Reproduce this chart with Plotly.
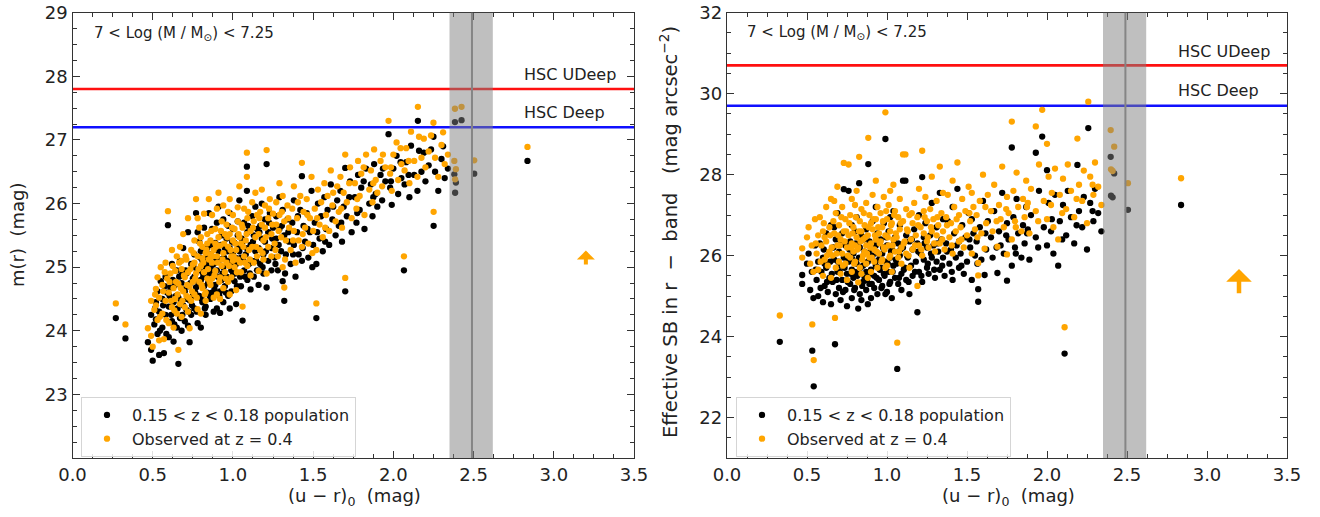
import plotly.graph_objects as go

# ---------------- Left panel: m(r) vs (u-r)_0 ----------------
xL = [
    0.27, 0.33,
    0.47, 0.49, 0.50, 0.51, 0.52, 0.53, 0.53, 0.54, 0.54, 0.55, 0.49, 0.52,
    0.56, 0.56, 0.57, 0.58, 0.58, 0.595, 0.60, 0.60, 0.61, 0.62, 0.62, 0.63, 0.63, 0.64, 0.64, 0.65, 0.65, 0.59,
    0.66, 0.66, 0.67, 0.67, 0.68, 0.68, 0.69, 0.69, 0.70, 0.70, 0.71, 0.71, 0.72, 0.72, 0.73, 0.73, 0.74, 0.74, 0.75, 0.75, 0.68, 0.72,
    0.76, 0.76, 0.77, 0.77, 0.78, 0.78, 0.79, 0.79, 0.80, 0.80, 0.81, 0.81, 0.82, 0.82, 0.83, 0.83, 0.84, 0.84, 0.85, 0.85, 0.78, 0.80, 0.83, 0.76, 0.81, 0.84,
    0.86, 0.86, 0.87, 0.87, 0.88, 0.88, 0.89, 0.89, 0.90, 0.90, 0.91, 0.91, 0.92, 0.92, 0.93, 0.93, 0.94, 0.94, 0.95, 0.95, 0.87, 0.90, 0.92, 0.89, 0.94, 0.86,
    0.96, 0.96, 0.97, 0.97, 0.98, 0.98, 0.99, 0.99, 1.00, 1.00, 1.01, 1.01, 1.02, 1.02, 1.03, 1.03, 1.04, 1.04, 1.05, 1.05, 0.98, 1.00, 1.03, 0.97,
    1.06, 1.06, 1.07, 1.07, 1.08, 1.087, 1.087, 1.09, 1.09, 1.10, 1.11, 1.11, 1.12, 1.12, 1.13, 1.13, 1.14, 1.14, 1.15, 1.15,
    1.16, 1.16, 1.17, 1.17, 1.18, 1.18, 1.19, 1.19, 1.20, 1.20, 1.21, 1.21, 1.22, 1.22, 1.23, 1.24, 1.24, 1.25,
    1.26, 1.27, 1.27, 1.28, 1.29, 1.29, 1.30, 1.31, 1.31, 1.32, 1.32, 1.33, 1.34, 1.35,
    1.36, 1.37, 1.38, 1.38, 1.39, 1.40, 1.41, 1.42, 1.43, 1.43, 1.44, 1.45,
    1.46, 1.47, 1.48, 1.49, 1.50, 1.51, 1.52, 1.52, 1.53, 1.54, 1.55,
    1.56, 1.57, 1.58, 1.59, 1.60, 1.61, 1.62, 1.64, 1.65,
    1.66, 1.67, 1.68, 1.69, 1.70, 1.70, 1.71, 1.73, 1.74,
    1.76, 1.77, 1.78, 1.79, 1.80, 1.82, 1.83, 1.85,
    1.86, 1.87, 1.88, 1.89, 1.90, 1.92, 1.93, 1.95,
    1.97, 1.98, 1.99, 2.00, 2.02, 2.03, 2.05,
    2.066, 2.07, 2.08, 2.10, 2.11, 2.13, 2.15,
    2.153, 2.16, 2.19, 2.20, 2.22, 2.25,
    2.251, 2.26, 2.28, 2.30, 2.32, 2.34,
    2.384, 2.425, 2.38, 2.39, 2.385, 2.504, 2.836,
    0.515, 0.545, 0.565, 0.575, 0.585, 0.605, 0.615, 0.625, 0.635, 0.645,
    0.655, 0.665, 0.675, 0.685, 0.695, 0.705, 0.715, 0.725, 0.735, 0.745,
    0.755, 0.765, 0.775, 0.785, 0.795, 0.805, 0.815, 0.825, 0.835, 0.845,
    0.855, 0.865, 0.875, 0.885, 0.895, 0.905, 0.915, 0.925, 0.935, 0.945,
    0.955, 0.965, 0.975, 0.985, 0.995, 1.005, 1.015, 1.025, 1.035, 1.045,
    1.055, 1.065, 1.075, 1.085, 1.095, 1.105, 1.125, 1.145, 1.165, 1.185,
    1.205, 1.225, 1.245, 1.265, 1.285, 1.305, 1.325, 1.345, 1.375, 1.405,
    1.435, 1.465, 1.495, 1.525, 1.575, 1.625, 1.675, 1.725, 1.775, 1.815,
    1.875, 1.935, 1.985, 2.045, 2.095, 2.175, 2.235, 2.31,
]
mr_low = [
    24.20, 23.88,
    23.82, 24.25, 23.53, 24.10, 24.45, 23.95, 24.62, 24.30, 23.62, 24.78, 23.70, 24.18,
    24.05, 24.50, 23.65, 24.25, 24.85, 25.66, 24.38, 23.90, 24.68, 24.15, 25.05, 24.45, 23.83, 24.72, 24.28, 24.05, 24.95, 24.60,
    23.48, 24.52, 24.20, 25.10, 24.75, 24.00, 24.40, 25.30, 24.62, 24.15, 24.90, 24.33, 25.55, 24.70, 23.82, 24.48, 25.05, 24.25, 24.82, 24.55, 24.88, 24.08,
    24.35, 25.20, 24.68, 25.85, 24.95, 24.12, 24.55, 25.40, 24.80, 24.05, 25.10, 24.45, 25.62, 24.70, 24.25, 25.00, 25.30, 24.60, 24.90, 25.85, 25.55, 25.25, 24.38, 24.85, 24.92, 25.15,
    24.50, 25.20, 24.85, 25.60, 24.30, 25.05, 24.72, 25.38, 24.95, 24.35, 25.25, 25.95, 24.62, 25.12, 24.80, 25.50, 25.00, 24.45, 25.30, 24.70, 24.60, 25.70, 24.28, 25.15, 25.75, 24.98,
    24.85, 25.45, 25.10, 24.55, 25.30, 25.85, 24.95, 24.62, 25.20, 25.60, 24.78, 25.38, 25.05, 24.42, 25.50, 24.90, 25.25, 26.05, 24.70, 25.15, 24.35, 24.88, 25.72, 25.65,
    24.16, 25.40, 24.95, 25.70, 25.20, 26.58, 26.20, 24.80, 25.55, 25.05, 25.35, 24.65, 25.80, 25.10, 24.85, 25.50, 25.25, 25.95, 24.95, 25.60,
    25.30, 24.72, 25.65, 25.05, 25.45, 26.00, 24.90, 25.20, 25.75, 25.40, 26.62, 24.68, 25.55, 25.10, 25.85, 25.30, 24.95, 25.62,
    25.15, 25.80, 25.45, 24.95, 26.10, 25.60, 25.25, 24.78, 25.90, 24.47, 25.50, 25.20, 25.75, 25.40,
    25.05, 25.70, 25.35, 26.05, 24.85, 25.55, 25.20, 25.90, 26.43, 25.10, 25.65, 25.40,
    25.85, 25.15, 25.55, 26.20, 25.35, 25.70, 24.20, 25.05, 26.00, 25.45, 25.80,
    25.25, 26.10, 25.60, 25.90, 25.35, 26.30, 25.75, 25.50, 26.05,
    25.65, 26.20, 25.40, 25.95, 24.62, 26.56, 25.80, 26.35, 25.55,
    26.10, 25.70, 26.45, 25.90, 26.25, 25.60, 26.55, 26.00,
    26.30, 25.80, 26.62, 26.15, 25.95, 26.45, 26.05, 26.35,
    27.09, 26.25, 25.98, 26.55, 26.75, 26.15, 26.40,
    24.95, 26.30, 26.65, 26.10, 26.91, 26.45, 26.20,
    27.30, 26.83, 26.80, 26.35, 26.60, 27.05,
    25.65, 26.50, 26.20, 26.70, 26.40, 26.55,
    27.28, 27.31, 26.46, 26.33, 26.17, 26.47, 26.67,
    24.35, 24.00, 24.40, 24.70, 23.95, 24.55, 24.25, 24.80, 24.10, 24.55,
    24.35, 24.85, 24.45, 24.25, 24.65, 24.95, 24.50, 24.30, 24.75, 24.40,
    25.00, 24.60, 24.30, 24.75, 25.15, 24.50, 24.85, 24.35, 25.05, 24.75,
    24.55, 25.35, 24.95, 24.65, 25.10, 24.85, 24.55, 25.35, 24.90, 25.15,
    24.60, 25.25, 24.80, 25.05, 25.40, 24.95, 25.15, 24.70, 25.30, 24.85,
    25.45, 25.10, 24.85, 25.30, 25.65, 24.90, 25.40, 25.10, 25.55, 25.00,
    25.25, 25.70, 25.45, 25.05, 25.35, 25.65, 24.90, 25.55, 25.20, 25.80,
    25.30, 25.60, 25.00, 25.55, 25.40, 25.95, 25.70, 26.10, 25.85, 26.35,
    26.10, 26.55, 26.35, 26.65, 26.45, 26.50, 26.85, 26.90,
]
mr_z04 = [
    24.43, 24.10,
    24.04, 24.47, 23.75, 24.33, 24.66, 24.17, 24.84, 24.52, 23.85, 25.00, 23.92, 24.40,
    24.27, 24.72, 23.87, 24.47, 25.07, 25.88, 24.60, 24.12, 24.90, 24.37, 25.27, 24.67, 24.05, 24.94, 24.50, 24.27, 25.17, 24.82,
    23.70, 24.74, 24.42, 25.32, 24.97, 24.22, 24.62, 25.52, 24.84, 24.37, 25.12, 24.55, 25.77, 24.92, 24.04, 24.70, 25.27, 24.47, 25.04, 24.77, 25.10, 24.30,
    24.57, 25.42, 24.90, 26.07, 25.17, 24.34, 24.77, 25.62, 25.02, 24.27, 25.32, 24.67, 25.84, 24.92, 24.47, 25.22, 25.52, 24.82, 25.12, 26.07, 25.77, 25.47, 24.60, 25.07, 25.14, 25.37,
    24.72, 25.42, 25.07, 25.82, 24.52, 25.27, 24.94, 25.60, 25.17, 24.57, 25.47, 26.17, 24.84, 25.34, 25.02, 25.72, 25.22, 24.67, 25.52, 24.92, 24.82, 25.92, 24.50, 25.37, 25.97, 25.20,
    25.07, 25.67, 25.32, 24.77, 25.52, 26.07, 25.17, 24.84, 25.42, 25.82, 25.00, 25.60, 25.27, 24.64, 25.72, 25.12, 25.47, 26.27, 24.92, 25.37, 24.57, 25.10, 25.94, 25.87,
    24.38, 25.62, 25.17, 25.92, 25.42, 26.80, 26.42, 25.02, 25.77, 25.27, 25.57, 24.87, 26.02, 25.32, 25.07, 25.72, 25.47, 26.17, 25.17, 25.82,
    25.52, 24.94, 25.87, 25.27, 25.67, 26.22, 25.12, 25.42, 25.97, 25.62, 26.84, 24.90, 25.77, 25.32, 26.07, 25.52, 25.17, 25.84,
    25.37, 26.02, 25.67, 25.17, 26.32, 25.82, 25.47, 25.00, 26.12, 24.68, 25.72, 25.42, 25.97, 25.62,
    25.27, 25.92, 25.57, 26.27, 25.07, 25.77, 25.42, 26.12, 26.64, 25.32, 25.87, 25.62,
    26.07, 25.37, 25.77, 26.42, 25.57, 25.92, 24.43, 25.27, 26.22, 25.67, 26.02,
    25.47, 26.32, 25.82, 26.12, 25.57, 26.52, 25.97, 25.72, 26.27,
    25.87, 26.42, 25.62, 26.17, 24.83, 26.77, 26.02, 26.57, 25.77,
    26.32, 25.92, 26.67, 26.12, 26.47, 25.82, 26.77, 26.22,
    26.52, 26.02, 26.85, 26.37, 26.17, 26.67, 26.27, 26.57,
    27.30, 26.47, 26.20, 26.77, 26.96, 26.37, 26.62,
    25.17, 26.52, 26.87, 26.32, 27.13, 26.67, 26.42,
    27.52, 27.05, 27.02, 26.57, 26.82, 27.27,
    25.87, 26.72, 26.42, 26.92, 26.62, 26.77,
    27.49, 27.52, 26.67, 26.54, 26.38, 26.68, 26.89,
    24.57, 24.22, 24.62, 24.92, 24.17, 24.77, 24.47, 25.02, 24.32, 24.77,
    24.57, 25.07, 24.67, 24.47, 24.87, 25.17, 24.72, 24.52, 24.97, 24.62,
    25.22, 24.82, 24.52, 24.97, 25.37, 24.72, 25.07, 24.57, 25.27, 24.97,
    24.77, 25.57, 25.17, 24.87, 25.32, 25.07, 24.77, 25.57, 25.12, 25.37,
    24.82, 25.47, 25.02, 25.27, 25.62, 25.17, 25.37, 24.92, 25.52, 25.07,
    25.67, 25.32, 25.07, 25.52, 25.87, 25.12, 25.62, 25.32, 25.77, 25.22,
    25.47, 25.92, 25.67, 25.27, 25.57, 25.87, 25.12, 25.77, 25.42, 26.02,
    25.52, 25.82, 25.22, 25.77, 25.62, 26.17, 25.92, 26.32, 26.07, 26.57,
    26.32, 26.77, 26.57, 26.87, 26.67, 26.72, 27.07, 27.12,
]

# ---------------- Right panel: effective SB vs (u-r)_0 ----------------
xR = [
    0.33,
    0.47, 0.47, 0.50, 0.51, 0.533, 0.542, 0.52, 0.53, 0.54, 0.55,
    0.56, 0.57, 0.57, 0.58, 0.59, 0.60, 0.60, 0.61, 0.62, 0.62, 0.63, 0.64, 0.64, 0.65, 0.65, 0.61,
    0.66, 0.675, 0.67, 0.68, 0.68, 0.69, 0.69, 0.70, 0.70, 0.71, 0.71, 0.72, 0.72, 0.73, 0.73, 0.74, 0.74, 0.75, 0.75, 0.67,
    0.76, 0.76, 0.77, 0.77, 0.78, 0.78, 0.79, 0.79, 0.80, 0.80, 0.81, 0.81, 0.82, 0.82, 0.826, 0.83, 0.83, 0.84, 0.84, 0.85, 0.85, 0.78, 0.80, 0.84,
    0.86, 0.86, 0.87, 0.87, 0.883, 0.88, 0.89, 0.89, 0.90, 0.90, 0.91, 0.91, 0.92, 0.92, 0.93, 0.93, 0.94, 0.94, 0.95, 0.95, 0.88, 0.90, 0.93, 0.87,
    0.96, 0.96, 0.97, 0.97, 0.98, 0.98, 0.99, 0.99, 1.00, 1.00, 1.01, 1.01, 1.02, 1.02, 1.03, 1.03, 1.04, 1.04, 1.05, 1.05, 0.99, 1.02,
    1.064, 1.06, 1.07, 1.07, 1.08, 1.08, 1.09, 1.09, 1.10, 1.10, 1.11, 1.115, 1.12, 1.12, 1.13, 1.14, 1.14, 1.15,
    1.16, 1.16, 1.17, 1.18, 1.19, 1.19, 1.20, 1.20, 1.21, 1.22, 1.22, 1.23, 1.23, 1.24, 1.25, 1.25,
    1.26, 1.27, 1.28, 1.28, 1.29, 1.30, 1.31, 1.31, 1.32, 1.33, 1.33, 1.34, 1.35, 1.35,
    1.36, 1.37, 1.38, 1.39, 1.40, 1.41, 1.41, 1.42, 1.43, 1.44, 1.45, 1.45,
    1.46, 1.47, 1.48, 1.49, 1.50, 1.51, 1.52, 1.53, 1.53, 1.54, 1.55,
    1.56, 1.57, 1.57, 1.58, 1.59, 1.60, 1.61, 1.62, 1.63, 1.65,
    1.66, 1.67, 1.69, 1.70, 1.71, 1.72, 1.73, 1.75, 1.75,
    1.76, 1.78, 1.78, 1.79, 1.80, 1.81, 1.82, 1.84, 1.85,
    1.86, 1.87, 1.88, 1.89, 1.90, 1.93, 1.93, 1.95,
    1.97, 1.98, 2.00, 2.00, 2.01, 2.03, 2.04, 2.05,
    2.07, 2.08, 2.10, 2.11, 2.12, 2.13, 2.15,
    2.17, 2.19, 2.20, 2.22, 2.23, 2.25,
    2.258, 2.27, 2.29, 2.30, 2.32, 2.34,
    2.398, 2.42, 2.40, 2.41, 2.506, 2.838,
    0.555, 0.585, 0.605, 0.625, 0.645, 0.655, 0.665, 0.685, 0.695, 0.705,
    0.715, 0.725, 0.735, 0.745, 0.755, 0.765, 0.775, 0.785, 0.795, 0.805,
    0.815, 0.825, 0.835, 0.845, 0.855, 0.865, 0.875, 0.885, 0.895, 0.905,
    0.915, 0.925, 0.935, 0.945, 0.955, 0.965, 0.975, 0.985, 0.995, 1.005,
    1.015, 1.025, 1.035, 1.045, 1.055, 1.075, 1.085, 1.105, 1.125, 1.135,
    1.155, 1.175, 1.195, 1.215, 1.235, 1.255, 1.275, 1.295, 1.315, 1.345,
    1.375, 1.405, 1.435, 1.465, 1.515, 1.565, 1.615, 1.685, 1.745, 1.805,
    1.875, 1.945, 2.025, 2.095, 2.185, 2.285,
]
sb_low = [
    23.87,
    25.52, 25.30, 25.80, 26.05, 23.65, 22.77, 25.15, 25.60, 24.95, 26.25,
    25.40, 25.85, 25.00, 26.30, 25.60, 24.85, 25.95, 25.25, 26.55, 25.70, 25.10, 26.05, 25.45, 24.80, 26.75, 25.80,
    25.35, 23.81, 25.90, 25.05, 26.40, 25.60, 27.05, 25.20, 26.10, 24.90, 25.75, 26.55, 25.40, 27.64, 25.95, 25.15, 26.25, 25.55, 24.75, 26.70,
    27.60, 25.85, 25.30, 26.35, 25.65, 24.95, 26.05, 25.45, 26.60, 25.20, 25.80, 26.95, 24.69, 25.55, 27.79, 26.20, 25.05, 25.95, 26.50, 25.35, 25.75, 26.75, 25.60, 24.90,
    26.10, 25.45, 26.65, 25.15, 28.26, 25.85, 25.30, 26.35, 25.65, 24.95, 26.00, 26.85, 25.50, 25.20, 26.25, 25.75, 25.05, 26.55, 25.90, 25.40, 24.80, 26.15, 27.20, 25.60,
    25.70, 26.40, 25.25, 26.05, 25.55, 26.80, 28.88, 25.85, 25.10, 26.25, 25.60, 26.60, 25.95, 25.35, 26.15, 24.95, 25.75, 27.10, 26.45, 25.45, 25.05, 26.95,
    23.20, 25.80, 26.30, 25.30, 26.00, 26.75, 25.55, 25.15, 27.85, 26.20, 25.70, 27.85, 26.50, 25.40, 25.95, 26.35, 25.05, 25.75,
    26.15, 25.50, 26.65, 25.85, 24.60, 26.30, 25.60, 27.00, 26.05, 27.94, 25.35, 26.45, 25.90, 26.80, 25.70, 26.20,
    25.55, 26.50, 25.95, 27.30, 26.25, 25.45, 26.70, 25.85, 26.10, 27.55, 25.65, 26.40, 25.95, 26.90,
    25.50, 26.30, 26.85, 25.80, 26.15, 27.20, 25.40, 26.55, 25.95, 27.65, 26.35, 25.70,
    26.05, 26.75, 25.55, 26.45, 25.85, 27.05, 26.20, 25.40, 26.90, 26.55, 26.00,
    26.35, 24.86, 25.17, 26.70, 25.90, 27.35, 25.52, 26.15, 26.85, 26.45,
    25.95, 27.10, 25.57, 26.60, 26.25, 27.55, 26.05, 25.38, 26.80,
    26.40, 25.75, 28.67, 26.95, 26.20, 27.40, 26.55, 25.95, 26.75,
    26.30, 27.20, 26.65, 25.90, 27.00, 28.54, 26.45, 27.60,
    28.94, 26.70, 28.11, 26.25, 27.30, 26.90, 26.05, 27.50,
    25.75, 26.85, 27.25, 23.58, 26.50, 27.60, 26.95,
    26.30, 28.24, 27.10, 26.70, 27.45, 26.15,
    29.15, 27.30, 26.85, 27.65, 27.05, 26.60,
    28.44, 28.03, 27.48, 27.44, 27.13, 27.25,
    25.65, 25.20, 26.15, 25.35, 25.85, 25.55, 26.20, 25.40, 25.85, 25.60,
    26.30, 25.10, 25.70, 25.95, 25.35, 26.15, 25.55, 25.90, 25.15, 26.30,
    25.50, 25.95, 25.70, 25.25, 26.40, 25.80, 25.40, 26.05, 25.55, 25.30,
    26.25, 25.85, 25.45, 26.05, 25.65, 25.20, 26.20, 25.50, 26.45, 25.80,
    25.30, 26.10, 25.60, 26.35, 25.90, 25.45, 26.15, 25.65, 26.00, 25.35,
    26.40, 25.60, 26.10, 25.50, 26.30, 25.80, 26.05, 25.65, 26.30, 25.75,
    26.10, 25.60, 26.25, 25.75, 26.40, 25.80, 26.55, 26.20, 26.50, 26.05,
    26.55, 26.20, 26.60, 26.40, 26.75, 27.10,
]
sb_z04 = [
    24.52,
    26.18, 25.95, 26.45, 26.70, 24.30, 23.42, 25.80, 26.25, 25.60, 26.90,
    26.05, 26.50, 25.65, 26.95, 26.25, 25.50, 26.60, 25.90, 27.20, 26.35, 25.75, 26.70, 26.10, 25.45, 27.40, 26.45,
    26.00, 24.46, 26.55, 25.70, 27.05, 26.25, 27.70, 25.85, 26.75, 25.55, 26.40, 27.20, 26.05, 28.29, 26.60, 25.80, 26.90, 26.20, 25.40, 27.35,
    28.25, 26.50, 25.95, 27.00, 26.30, 25.60, 26.70, 26.10, 27.25, 25.85, 26.45, 27.60, 25.34, 26.20, 28.44, 26.85, 25.70, 26.60, 27.15, 26.00, 26.40, 27.40, 26.25, 25.55,
    26.75, 26.10, 27.30, 25.80, 28.91, 26.50, 25.95, 27.00, 26.30, 25.60, 26.65, 27.50, 26.15, 25.85, 26.90, 26.40, 25.70, 27.20, 26.55, 26.05, 25.45, 26.80, 27.85, 26.25,
    26.35, 27.05, 25.90, 26.70, 26.20, 27.45, 29.54, 26.50, 25.75, 26.90, 26.25, 27.25, 26.60, 26.00, 26.80, 25.60, 26.40, 27.75, 27.10, 26.10, 25.70, 27.60,
    23.85, 26.45, 26.95, 25.95, 26.65, 27.40, 26.20, 25.80, 28.50, 26.85, 26.35, 28.50, 27.15, 26.05, 26.60, 27.00, 25.70, 26.40,
    26.80, 26.15, 27.30, 26.50, 25.25, 26.95, 26.25, 27.65, 26.70, 28.59, 26.00, 27.10, 26.55, 27.45, 26.35, 26.85,
    26.20, 27.15, 26.60, 27.95, 26.90, 26.10, 27.35, 26.50, 26.75, 28.20, 26.30, 27.05, 26.60, 27.55,
    26.15, 26.95, 27.50, 26.45, 26.80, 27.85, 26.05, 27.20, 26.60, 28.30, 27.00, 26.35,
    26.70, 27.40, 26.20, 27.10, 26.50, 27.70, 26.85, 26.05, 27.55, 27.20, 26.65,
    27.00, 25.51, 25.82, 27.35, 26.55, 28.00, 26.17, 26.80, 27.50, 27.10,
    26.60, 27.75, 26.22, 27.25, 26.90, 28.20, 26.70, 26.03, 27.45,
    27.05, 26.40, 29.31, 27.60, 26.85, 28.05, 27.20, 26.60, 27.40,
    26.95, 27.85, 27.30, 26.55, 27.65, 29.19, 27.10, 28.25,
    29.60, 27.35, 28.76, 26.90, 27.95, 27.55, 26.70, 28.15,
    26.40, 27.50, 27.90, 24.23, 27.15, 28.25, 27.60,
    26.95, 28.89, 27.75, 27.35, 28.10, 26.80,
    29.80, 27.95, 27.50, 28.30, 27.70, 27.25,
    29.10, 28.69, 28.13, 28.09, 27.79, 27.91,
    26.30, 25.85, 26.80, 26.00, 26.50, 26.20, 26.85, 26.05, 26.50, 26.25,
    26.95, 25.75, 26.35, 26.60, 26.00, 26.80, 26.20, 26.55, 25.80, 26.95,
    26.15, 26.60, 26.35, 25.90, 27.05, 26.45, 26.05, 26.70, 26.20, 25.95,
    26.90, 26.50, 26.10, 26.70, 26.30, 25.85, 26.85, 26.15, 27.10, 26.45,
    25.95, 26.75, 26.25, 27.00, 26.55, 26.10, 26.80, 26.30, 26.65, 26.00,
    27.05, 26.25, 26.75, 26.15, 26.95, 26.45, 26.70, 26.30, 26.95, 26.40,
    26.75, 26.25, 26.90, 26.40, 27.05, 26.45, 27.20, 26.85, 27.15, 26.70,
    27.20, 26.85, 27.25, 27.05, 27.40, 27.75,
]

assert len(xL) == len(mr_low) == len(mr_z04)
assert len(xR) == len(sb_low) == len(sb_z04)

# limits / reference values
udeep_mr, deep_mr = 27.8, 27.2
udeep_sb, deep_sb = 30.7, 29.7
band_lo, band_hi, band_mid = 2.35, 2.62, 2.49
arrow_x = 3.2
arrow_mr = (25.02, 25.26)
arrow_sb = (25.03, 25.67)
xticks = [0.0, 0.5, 1.0, 1.5, 2.0, 2.5, 3.0, 3.5]
yticks_mr = [23, 24, 25, 26, 27, 28, 29]
yticks_sb = [22, 24, 26, 28, 30, 32]

FONT = "DejaVu Sans"
ORANGE = "#FFA500"
MS = 6.3

fig = go.Figure()
fig.add_trace(go.Scatter(x=xL, y=mr_low, mode="markers", name="0.15 < z < 0.18 population",
                         marker=dict(color="black", size=MS), xaxis="x", yaxis="y", legend="legend"))
fig.add_trace(go.Scatter(x=xL, y=mr_z04, mode="markers", name="Observed at z = 0.4",
                         marker=dict(color=ORANGE, size=MS), xaxis="x", yaxis="y", legend="legend"))
fig.add_trace(go.Scatter(x=xR, y=sb_low, mode="markers", name="0.15 < z < 0.18 population",
                         marker=dict(color="black", size=MS), xaxis="x2", yaxis="y2", legend="legend2"))
fig.add_trace(go.Scatter(x=xR, y=sb_z04, mode="markers", name="Observed at z = 0.4",
                         marker=dict(color=ORANGE, size=MS), xaxis="x2", yaxis="y2", legend="legend2"))

shapes = []
for xa, ya, ud, dp in (("x", "y", udeep_mr, deep_mr), ("x2", "y2", udeep_sb, deep_sb)):
    shapes.append(dict(type="line", xref=f"{xa} domain", yref=ya, x0=0, x1=1, y0=ud, y1=ud,
                       line=dict(color="#FF1010", width=2.6), layer="below"))
    shapes.append(dict(type="line", xref=f"{xa} domain", yref=ya, x0=0, x1=1, y0=dp, y1=dp,
                       line=dict(color="#1010FF", width=2.6), layer="below"))
    shapes.append(dict(type="rect", xref=xa, yref=f"{ya} domain", x0=band_lo, x1=band_hi, y0=0, y1=1,
                       fillcolor="rgba(128,128,128,0.5)", line=dict(width=0), layer="above"))
    shapes.append(dict(type="line", xref=xa, yref=f"{ya} domain", x0=band_mid, x1=band_mid, y0=0, y1=1,
                       line=dict(color="#858585", width=2), layer="above"))

ann = []
txt_font = dict(family=FONT, size=15, color="#222")
hsc_font = dict(family=FONT, size=16, color="#222")
title_font = dict(family=FONT, size=18, color="#222")
ann += [
    dict(xref="x", yref="y", x=0.12, y=28.68, text="7 < Log (M / M<sub>⊙</sub>) < 7.25",
         showarrow=False, xanchor="left", yanchor="middle", font=txt_font),
    dict(xref="x2", yref="y2", x=0.11, y=31.5, text="7 < Log (M / M<sub>⊙</sub>) < 7.25",
         showarrow=False, xanchor="left", yanchor="middle", font=txt_font),
    dict(xref="x", yref="y", x=2.80, y=28.03, text="HSC UDeep", showarrow=False,
         xanchor="left", yanchor="middle", font=hsc_font),
    dict(xref="x", yref="y", x=2.80, y=27.43, text="HSC Deep", showarrow=False,
         xanchor="left", yanchor="middle", font=hsc_font),
    dict(xref="x2", yref="y2", x=2.806, y=31.05, text="HSC UDeep", showarrow=False,
         xanchor="left", yanchor="middle", font=hsc_font),
    dict(xref="x2", yref="y2", x=2.806, y=30.07, text="HSC Deep", showarrow=False,
         xanchor="left", yanchor="middle", font=hsc_font),
    # arrows
    dict(xref="x", yref="y", axref="x", ayref="y", x=arrow_x, y=arrow_mr[1], ax=arrow_x, ay=arrow_mr[0],
         text="", showarrow=True, arrowhead=1, arrowsize=0.75, arrowwidth=4, arrowcolor=ORANGE, standoff=0),
    dict(xref="x2", yref="y2", axref="x2", ayref="y2", x=arrow_x, y=arrow_sb[1], ax=arrow_x, ay=arrow_sb[0],
         text="", showarrow=True, arrowhead=1, arrowsize=0.95, arrowwidth=4.5, arrowcolor=ORANGE, standoff=0),
    # axis titles
    dict(xref="paper", yref="paper", x=17 / 1320, y=1 - 235 / 517, text="m(r)\u00a0\u00a0(mag)",
         textangle=-90, showarrow=False, xanchor="center", yanchor="middle", font=title_font),
    dict(xref="paper", yref="paper", x=669 / 1320, y=1 - 232 / 517,
         text="Effective SB in r\u00a0\u00a0−\u00a0\u00a0band\u00a0\u00a0\u00a0(mag arcsec<sup>−2</sup>)",
         textangle=-90, showarrow=False, xanchor="center", yanchor="middle",
         font=dict(family=FONT, size=19.5, color="#222")),
    dict(xref="paper", yref="paper", x=354 / 1320, y=1 - 497 / 517, text="(u − r)<sub>0</sub>\u00a0\u00a0(mag)",
         showarrow=False, xanchor="center", yanchor="middle", font=title_font),
    dict(xref="paper", yref="paper", x=1008 / 1320, y=1 - 497 / 517, text="(u − r)<sub>0</sub>\u00a0\u00a0(mag)",
         showarrow=False, xanchor="center", yanchor="middle", font=title_font),
]

axis_common = dict(showgrid=False, zeroline=False, showline=True, linecolor="#333", linewidth=1.3,
                   mirror="allticks", ticks="inside", ticklen=7, tickwidth=1.3, tickcolor="#333",
                   automargin=False,
                   tickfont=dict(family=FONT, size=18, color="#222"))

legend_common = dict(xanchor="left", yanchor="top", bgcolor="rgba(255,255,255,0.85)",
                     bordercolor="#d5d5d5", borderwidth=1, itemwidth=40,
                     font=dict(family=FONT, size=16, color="#222"), tracegroupgap=2)

ydom = [1 - 458 / 517, 1 - 12.7 / 517]
fig.update_layout(
    width=1320, height=517, margin=dict(l=0, r=0, t=0, b=0, autoexpand=False),
    paper_bgcolor="white", plot_bgcolor="white",
    xaxis=dict(domain=[72.5 / 1320, 634 / 1320], range=[0, 3.5], tickvals=xticks, tickformat=".1f",
               anchor="y", minor=dict(ticks="inside", ticklen=4, dtick=0.125, tick0=0, tickcolor="#333"),
               **axis_common),
    yaxis=dict(domain=ydom, range=[22, 29], tickvals=yticks_mr, anchor="x",
               minor=dict(ticks="inside", ticklen=4, dtick=0.25, tick0=22, tickcolor="#333"),
               **axis_common),
    xaxis2=dict(domain=[727 / 1320, 1287 / 1320], range=[0, 3.5], tickvals=xticks, tickformat=".1f",
                anchor="y2", minor=dict(ticks="inside", ticklen=4, dtick=0.125, tick0=0, tickcolor="#333"),
                **axis_common),
    yaxis2=dict(domain=ydom, range=[21, 32], tickvals=yticks_sb, anchor="x2",
                minor=dict(ticks="inside", ticklen=4, dtick=0.5, tick0=21, tickcolor="#333"),
                **axis_common),
    shapes=shapes,
    annotations=ann,
    legend=dict(x=81 / 1320, y=1 - 397 / 517, **legend_common),
    legend2=dict(x=736 / 1320, y=1 - 397 / 517, **legend_common),
)

fig.write_html("out.html")
